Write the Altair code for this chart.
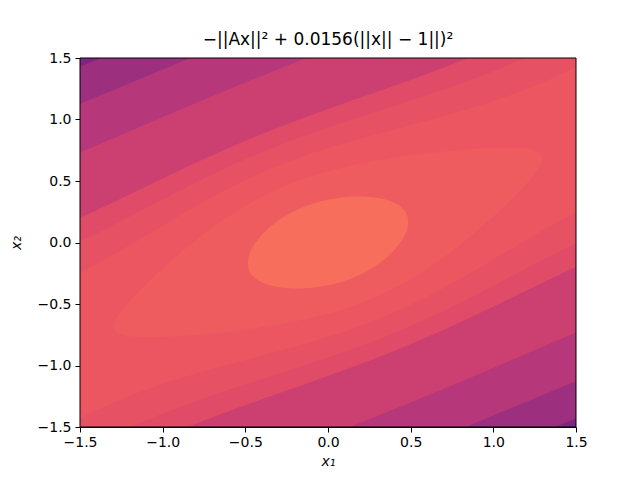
import numpy as np
import pandas as pd
import altair as alt

# ---- axis ranges / ticks ----
x_range = [-1.5, 1.5]
y_range = [-1.5, 1.5]
tick_values = [-1.5, -1.0, -0.5, 0.0, 0.5, 1.0, 1.5]

# ---- function: f(x) = -x^T (A^T A) x + 0.0156 (||x|| - 1)^2 ----
gram = [[0.0180, -0.0199],
        [-0.0199, 0.0426]]      # A^T A, estimated from the contour shapes
penalty = 0.015625               # "0.0156" in the title

# contour levels (lower bound of each filled band, lowest first) and band shades (magma position)
levels = [-1.0, -0.195, -0.15, -0.10, -0.05, -0.0372, -0.0243, -0.0115, 0.0015]
band_shade = [0.37, 0.44, 0.50, 0.555, 0.605, 0.625, 0.64, 0.655, 0.70]

title_text = "−||Ax||² + 0.0156(||x|| − 1||)²"

# ---- evaluate the field on a grid ----
xs = np.linspace(x_range[0], x_range[1], 601)
ys = np.linspace(y_range[0], y_range[1], 3001)
X, Y = np.meshgrid(xs, ys, indexing="ij")
Z = -(gram[0][0] * X**2 + 2 * gram[0][1] * X * Y + gram[1][1] * Y**2) \
    + penalty * (np.sqrt(X**2 + Y**2) - 1.0) ** 2


def crossing(zrow, j_out, j_in, level):
    z0, z1 = zrow[j_out], zrow[j_in]
    t = (level - z0) / (z1 - z0) if z1 != z0 else 0.0
    return ys[j_out] + t * (ys[j_in] - ys[j_out])


frames = []
for k, L in enumerate(levels):
    rows = []
    for i, xv in enumerate(xs):
        zrow = Z[i]
        idx = np.nonzero(zrow >= L)[0]
        if idx.size == 0:
            continue
        j0, j1 = idx[0], idx[-1]
        ylo = ys[j0] if j0 == 0 else crossing(zrow, j0 - 1, j0, L)
        yhi = ys[j1] if j1 == len(ys) - 1 else crossing(zrow, j1 + 1, j1, L)
        rows.append((xv, ylo, yhi))
    df = pd.DataFrame(rows, columns=["x", "ylo", "yhi"])
    df["shade"] = band_shade[k]
    frames.append(df)

xscale = alt.Scale(domain=x_range, nice=False, zero=False)
yscale = alt.Scale(domain=y_range, nice=False, zero=False)
xaxis = alt.Axis(values=tick_values, format=".1f", title="x₁", titleFontStyle="italic",
                 labelFlush=False)
yaxis = alt.Axis(values=tick_values, format=".1f", title="x₂", titleFontStyle="italic",
                 labelFlush=False)
cscale = alt.Scale(scheme="magma", domain=[0, 1])

layers = []
for df in frames:
    layers.append(
        alt.Chart(df).mark_area(interpolate="linear").encode(
            x=alt.X("x:Q", scale=xscale, axis=xaxis),
            y=alt.Y("ylo:Q", scale=yscale, axis=yaxis),
            y2="yhi:Q",
            color=alt.Color("shade:Q", scale=cscale, legend=None),
        )
    )

box = pd.DataFrame({"x0": [x_range[0]], "x1": [x_range[1]], "y0": [y_range[0]], "y1": [y_range[1]]})
border = alt.Chart(box).mark_rect(fillOpacity=0, stroke="black", strokeWidth=1).encode(
    x=alt.X("x0:Q", scale=xscale, axis=xaxis), x2="x1:Q",
    y=alt.Y("y0:Q", scale=yscale, axis=yaxis), y2="y1:Q",
)
layers.append(border)

chart = alt.layer(*layers).properties(
    width=496,
    height=369,
    autosize=alt.AutoSizeParams(type="none"),
    padding={"left": 72, "top": 50, "right": 56, "bottom": 45},
    background="white",
    title=alt.TitleParams(text=title_text, font="DejaVu Sans", fontSize=17,
                          fontWeight="normal", color="black", anchor="middle", offset=2),
).configure_view(stroke=None).configure_axis(
    grid=False,
    domainColor="black", domainWidth=1,
    tickColor="black", tickSize=5, tickWidth=1,
    labelFont="DejaVu Sans", labelFontSize=14, labelColor="black",
    titleFont="DejaVu Sans", titleFontSize=14, titleColor="black", titleFontWeight="normal",
).configure_axisX(labelPadding=3, titlePadding=5).configure_axisY(labelPadding=4, titlePadding=14)

chart.save("out.html", embed_options={"renderer": "svg", "actions": False})
